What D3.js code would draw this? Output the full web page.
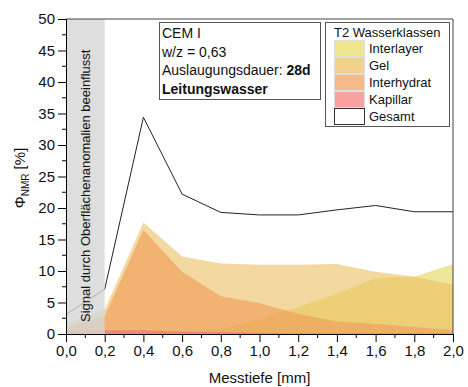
<!DOCTYPE html>
<html>
<head>
<meta charset="utf-8">
<script src="https://cdn.jsdelivr.net/npm/d3@7"></script>
<style>
  body { margin: 0; background: #fff; }
  svg text { font-family: "Liberation Sans", Arial, sans-serif; fill: #111; }
</style>
</head>
<body>
<div id="chart"></div>
<script>
var W = 468, H = 387;
var plotLeft = 66, plotRight = 453, plotTop = 19, plotBottom = 334;

// data
var depth       = [0.0, 0.2, 0.4, 0.6, 0.8, 1.0, 1.2, 1.4, 1.6, 1.8, 2.0];
var interlayer  = [0.3, 0.5, 0.2, 0.3, 0.8, 2.4, 4.3, 6.4, 8.9, 9.1, 11.1];
var gel         = [1.6, 3.9, 17.7, 12.3, 11.2, 11.0, 11.0, 11.1, 9.9, 9.1, 7.8];
var interhydrat = [1.0, 2.8, 16.5, 9.9, 6.0, 4.9, 3.2, 2.0, 1.6, 1.1, 0.6];
var kapillar    = [0.5, 0.6, 0.6, 0.4, 0.3, 0.2, 0.1, 0.1, 0.1, 0.1, 0.1];
var gesamt      = [3.1, 7.1, 34.4, 22.2, 19.3, 18.9, 18.9, 19.7, 20.4, 19.4, 19.4];

var xTicks = [0, 0.2, 0.4, 0.6, 0.8, 1.0, 1.2, 1.4, 1.6, 1.8, 2.0];
var yTicks = [0, 5, 10, 15, 20, 25, 30, 35, 40, 45, 50];
var classes = ["Interlayer", "Gel", "Interhydrat", "Kapillar", "Gesamt"];
var infoLines = ["CEM I", "w/z = 0,63", "Auslaugungsdauer: ", "Leitungswasser"];

var series = [
  {name: "Interlayer", values: interlayer, color: "#e3d557", op: 0.6},
  {name: "Gel", values: gel, color: "#ebc061", op: 0.6},
  {name: "Interhydrat", values: interhydrat, color: "#efa15e", op: 0.7},
  {name: "Kapillar", values: kapillar, color: "#f26e6e", op: 0.6}
];
var swatch = {Interlayer: "#f0e68e", Gel: "#f2d08e", Interhydrat: "#f6b98a", Kapillar: "#f9a0a0", Gesamt: "#ffffff"};

var svg = d3.select("#chart").append("svg")
  .attr("width", W).attr("height", H);

var x = d3.scaleLinear().domain([0, 2]).range([plotLeft, plotRight]);
var y = d3.scaleLinear().domain([0, 50]).range([plotBottom, plotTop]);
var comma = function(d) { return d3.format(".1f")(d).replace(".", ","); };

// areas, each from zero, overlapping
var area = d3.area()
  .x(function(d, i) { return x(depth[i]); })
  .y0(y(0))
  .y1(function(d) { return y(d); });

series.forEach(function(s) {
  svg.append("path")
    .attr("d", area(s.values))
    .attr("fill", s.color)
    .attr("fill-opacity", s.op);
});

var line = d3.line()
  .x(function(d, i) { return x(depth[i]); })
  .y(function(d) { return y(d); });

svg.append("path")
  .attr("d", line(gesamt))
  .attr("fill", "none")
  .attr("stroke", "#222")
  .attr("stroke-width", 1);

// grey band 0.0 - 0.2
svg.append("rect")
  .attr("x", x(0)).attr("y", plotTop)
  .attr("width", x(0.2) - x(0)).attr("height", plotBottom - plotTop)
  .attr("fill", "#d6d6d6").attr("fill-opacity", 0.8);

svg.append("text")
  .attr("transform", "translate(" + (x(0.1) + 5) + "," + 322 + ") rotate(-90)")
  .attr("font-size", 13)
  .text("Signal durch Oberflächenanomalien beeinflusst");

// frame
svg.append("path")
  .attr("d", "M" + plotLeft + "," + plotTop + "H" + plotRight + "V" + plotBottom)
  .attr("fill", "none").attr("stroke", "#444").attr("stroke-width", 1);

// axes
var xAxis = svg.append("g")
  .attr("transform", "translate(0," + plotBottom + ")")
  .call(d3.axisBottom(x).tickValues(xTicks).tickFormat(comma).tickSize(8).tickPadding(3));
xAxis.append("g").selectAll("line")
  .data(d3.range(0.1, 2, 0.2))
  .enter().append("line")
  .attr("x1", function(d) { return x(d); }).attr("x2", function(d) { return x(d); })
  .attr("y1", 0).attr("y2", 4).attr("stroke", "#000");

var yAxis = svg.append("g")
  .attr("transform", "translate(" + plotLeft + ",0)")
  .call(d3.axisLeft(y).tickValues(yTicks).tickSize(8).tickPadding(3));
yAxis.append("g").selectAll("line")
  .data(d3.range(2.5, 50, 5))
  .enter().append("line")
  .attr("y1", function(d) { return y(d); }).attr("y2", function(d) { return y(d); })
  .attr("x1", 0).attr("x2", -4).attr("stroke", "#000");

svg.selectAll(".tick text").attr("font-size", 15).attr("fill", "#111");
svg.selectAll(".domain").attr("stroke", "#000");

// axis titles
svg.append("text")
  .attr("x", (plotLeft + plotRight) / 2).attr("y", 383)
  .attr("text-anchor", "middle").attr("font-size", 15)
  .text("Messtiefe [mm]");

var yt = svg.append("text")
  .attr("transform", "translate(25,178) rotate(-90)")
  .attr("text-anchor", "middle").attr("font-size", 15);
yt.append("tspan").text("Φ");
yt.append("tspan").attr("font-size", 10).attr("dy", 4).text("NMR");
yt.append("tspan").attr("dy", -4).text(" [%]");

// info box
svg.append("rect")
  .attr("x", 159.5).attr("y", 22.5).attr("width", 161).attr("height", 77)
  .attr("fill", "#fff").attr("stroke", "#555");
infoLines.forEach(function(t, i) {
  var tx = svg.append("text")
    .attr("x", 162).attr("y", 38 + i * 18.5).attr("font-size", 14)
    .text(t);
  if (i === 2) tx.append("tspan").attr("font-weight", "bold").text("28d");
  if (i === 3) tx.attr("font-weight", "bold");
});

// legend
svg.append("rect")
  .attr("x", 325.5).attr("y", 22.5).attr("width", 124).attr("height", 104)
  .attr("fill", "#fff").attr("stroke", "#555");
svg.append("text")
  .attr("x", 334).attr("y", 37).attr("font-size", 13)
  .text("T2 Wasserklassen");
classes.forEach(function(c, i) {
  var yy = 40.5 + i * 17;
  svg.append("rect")
    .attr("x", 334.5).attr("y", yy).attr("width", 30).attr("height", 16)
    .attr("fill", swatch[c])
    .attr("stroke", c === "Gesamt" ? "#333" : "#ddd").attr("stroke-width", 1);
  svg.append("text")
    .attr("x", 369).attr("y", yy + 12.5).attr("font-size", 13)
    .text(c);
});
</script>
</body>
</html>
